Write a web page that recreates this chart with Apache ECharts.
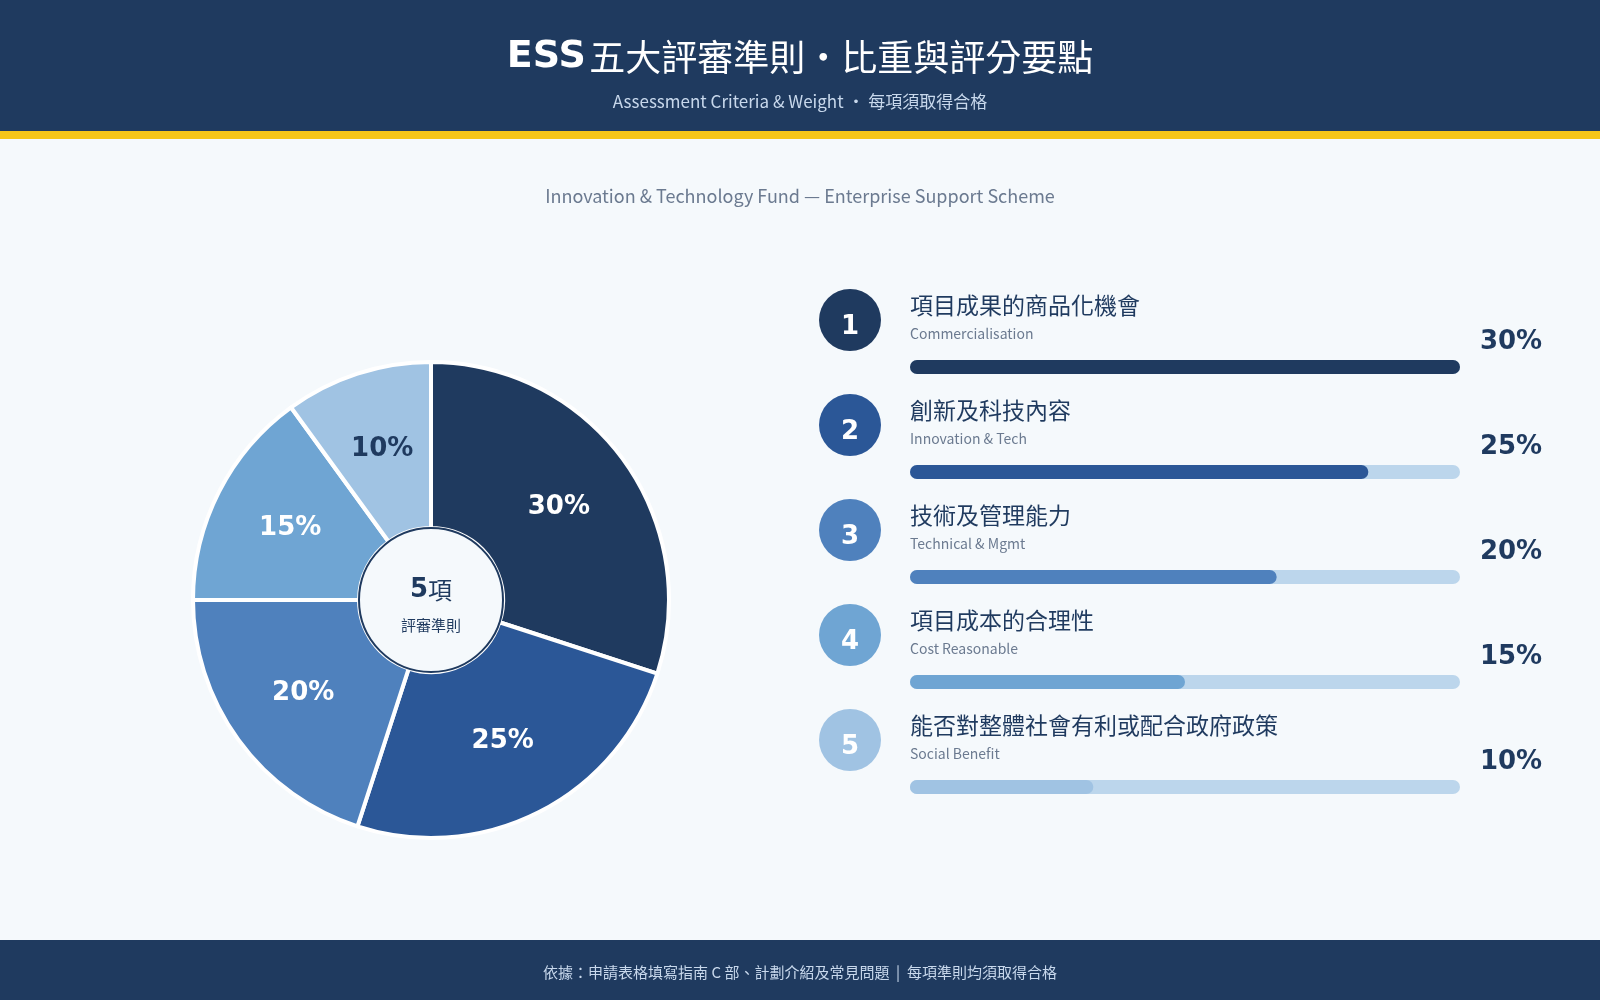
<!DOCTYPE html>
<html><head><meta charset="utf-8">
<script src="https://cdn.jsdelivr.net/npm/echarts@6/dist/echarts.min.js"></script>
<style>html,body{margin:0;padding:0;background:#f5f9fc}#c{width:1600px;height:1000px}</style>
</head><body><div id="c"></div>
<script>
const zhNames = ['項目成果的商品化機會','創新及科技內容','技術及管理能力','項目成本的合理性','能否對整體社會有利或配合政府政策'];
const enNames = ['Commercialisation','Innovation & Tech','Technical & Mgmt','Cost Reasonable','Social Benefit'];
const weights = [30,25,20,15,10];
const colors = ['#1f3a5f','#2b5797','#4f81bd','#6fa5d3','#a0c3e3'];
const labelColors = ['#fff','#fff','#fff','#fff','#1f3a5f'];
const F = '"Noto Sans CJK TC","DejaVu Sans",sans-serif';
const chart = echarts.init(document.getElementById('c'));
const rowY = [367,472,577,682,787];
const g = [
  {type:'rect',shape:{x:0,y:0,width:1600,height:131},style:{fill:'#1f3a5f'}},
  {type:'rect',shape:{x:0,y:131,width:1600,height:8},style:{fill:'#f5c518'}},
  {type:'rect',shape:{x:0,y:940,width:1600,height:60},style:{fill:'#1f3a5f'}},
  {type:'text',x:800,y:57,style:{text:'{a|ESS} {b|五大評審準則・比重與評分要點}',rich:{a:{fontSize:38,fontWeight:'bold',fill:'#fff',fontFamily:'DejaVu Sans'},b:{fontSize:36,fill:'#fff',fontFamily:F}},align:'center',verticalAlign:'middle'}},
  {type:'text',x:800,y:102,style:{text:'Assessment Criteria & Weight · 每項須取得合格',fontSize:17,fill:'#c8d8ec',fontFamily:F,align:'center',verticalAlign:'middle'}},
  {type:'text',x:800,y:196,style:{text:'Innovation & Technology Fund — Enterprise Support Scheme',fontSize:18,fill:'#6b7a90',fontFamily:F,align:'center',verticalAlign:'middle'}},
  {type:'text',x:800,y:972,style:{text:'依據：申請表格填寫指南 C 部、計劃介紹及常見問題  |  每項準則均須取得合格',fontSize:15,fill:'#c8d8ec',fontFamily:F,align:'center',verticalAlign:'middle'}},
  {type:'circle',shape:{cx:431,cy:600,r:72},style:{fill:'#f5f9fc',stroke:'#1f3a5f',lineWidth:2},z:10},
  {type:'text',x:431,y:590,z:11,style:{text:'{a|5}{b|項}',rich:{a:{fontSize:26,fontWeight:'bold',fill:'#1f3a5f',fontFamily:'DejaVu Sans'},b:{fontSize:24,fill:'#1f3a5f',fontFamily:F}},align:'center',verticalAlign:'middle'}},
  {type:'text',x:431,y:625,z:11,style:{text:'評審準則',fontSize:15,fill:'#1f3a5f',fontFamily:F,align:'center',verticalAlign:'middle'}}
];
weights.forEach((w,i)=>{
  const cy = rowY[i]-47;
  g.push({type:'circle',shape:{cx:850,cy:cy,r:31},style:{fill:colors[i]}});
  g.push({type:'text',x:850,y:cy+7,style:{text:String(i+1),fontSize:26,fontWeight:'bold',fill:'#fff',fontFamily:'DejaVu Sans',align:'center',verticalAlign:'middle'}});
  g.push({type:'text',x:910,y:cy-15,style:{text:zhNames[i],fontSize:23,fill:'#1f3a5f',fontFamily:F,verticalAlign:'middle'}});
  g.push({type:'text',x:910,y:cy+14,style:{text:enNames[i],fontSize:14,fill:'#6b7a90',fontFamily:F,verticalAlign:'middle'}});
  g.push({type:'text',x:1511,y:cy+22,style:{text:w+'%',fontSize:26,fontWeight:'bold',fill:'#1f3a5f',fontFamily:'DejaVu Sans',align:'center',verticalAlign:'middle'}});
});
chart.setOption({
  backgroundColor:'#f5f9fc',
  animation:false,
  graphic:g,
  grid:{left:910,width:550,top:314.5,height:525},
  xAxis:{type:'value',min:0,max:30,show:false},
  yAxis:{type:'category',inverse:true,data:enNames,show:false},
  series:[
    {type:'pie',center:[431,600],radius:[72,238],startAngle:90,clockwise:true,
     data:weights.map((w,i)=>({value:w,name:zhNames[i],itemStyle:{color:colors[i]},label:{color:labelColors[i]}})),
     itemStyle:{borderColor:'#fff',borderWidth:4},
     label:{position:'inner',formatter:'{c}%',fontSize:26,fontWeight:'bold',fontFamily:'DejaVu Sans'},
     labelLine:{show:false}},
    {type:'bar',data:weights.map((w,i)=>({value:w,itemStyle:{color:colors[i]}})),barWidth:14,
     itemStyle:{borderRadius:7},showBackground:true,backgroundStyle:{color:'#bcd6ec',borderRadius:7}}
  ]
});
</script></body></html>
